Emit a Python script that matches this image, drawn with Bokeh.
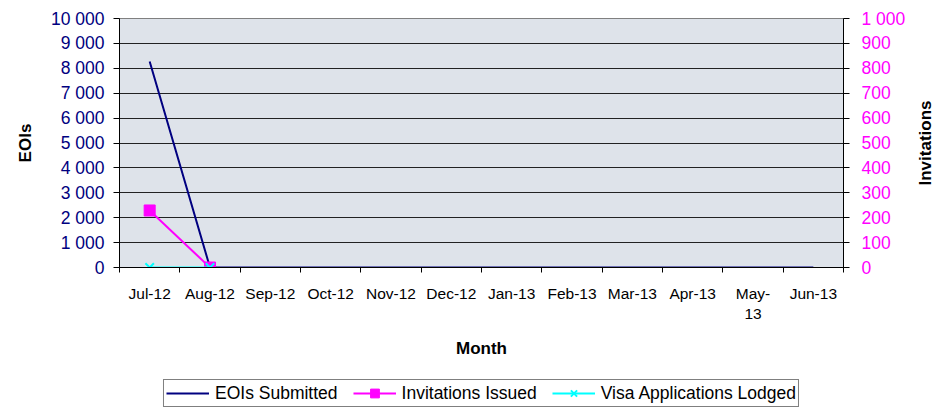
import math
from bokeh.plotting import figure
from bokeh.layouts import column, row
from bokeh.models import Range1d, LinearAxis, FixedTicker, Legend, LegendItem, Label
from bokeh.embed import file_html
from bokeh.resources import INLINE

# ---- data ----
months = ["Jul-12", "Aug-12", "Sep-12", "Oct-12", "Nov-12", "Dec-12",
          "Jan-13", "Feb-13", "Mar-13", "Apr-13", "May-13", "Jun-13"]
month_labels = ["Jul-12", "Aug-12", "Sep-12", "Oct-12", "Nov-12", "Dec-12",
                "Jan-13", "Feb-13", "Mar-13", "Apr-13", "May-\n13", "Jun-13"]
eois_submitted = [8270, 0, 0, 0, 0, 0, 0, 0, 0, 0, 0, 0]
invitations_issued = [229, 0]
visa_applications_lodged = [0, 0]
eoi_ticks = [0, 1000, 2000, 3000, 4000, 5000, 6000, 7000, 8000, 9000, 10000]
inv_ticks = [0, 100, 200, 300, 400, 500, 600, 700, 800, 900, 1000]
series_names = ["EOIs Submitted", "Invitations Issued", "Visa Applications Lodged"]

FONT = "Liberation Sans"
NAVY = "#000080"
MAGENTA = "#FF00FF"
CYAN = "#00FFFF"

x_all = list(range(len(months)))
bounds = [i - 0.5 for i in range(len(months) + 1)]
xi = x_all[:len(invitations_issued)]
xv = x_all[:len(visa_applications_lodged)]

MAIN_W, MAIN_H, LEG_H, TITLE_W = 908, 377, 32, 35

p = figure(width=MAIN_W, height=MAIN_H,
           x_range=Range1d(-0.5, len(months) - 0.5),
           y_range=Range1d(eoi_ticks[0], eoi_ticks[-1]),
           output_backend="svg", toolbar_location=None,
           min_border_left=119, min_border_right=64,
           min_border_top=18, min_border_bottom=110,
           background_fill_color="#DEE3EA", border_fill_color="white",
           outline_line_color="#808080", outline_line_width=1)
p.extra_y_ranges = {"inv": Range1d(inv_ticks[0], inv_ticks[-1])}

def fmt(v):
    return f"{v:,}".replace(",", " ")

# x axis 1: tick marks at category boundaries, labels hidden
xa = p.xaxis[0]
xa.ticker = FixedTicker(ticks=bounds)
xa.major_label_text_color = None
xa.major_label_text_font_size = "2px"
xa.major_label_standoff = 0
xa.major_tick_in = 0
xa.major_tick_out = 5
xa.major_tick_line_color = "black"
xa.minor_tick_line_color = None
xa.axis_line_color = "black"

# x axis 2: month labels at category centres
xb = LinearAxis(ticker=FixedTicker(ticks=x_all))
xb.major_label_overrides = {i: lab for i, lab in zip(x_all, month_labels)}
xb.axis_line_color = None
xb.major_tick_line_color = None
xb.minor_tick_line_color = None
xb.major_tick_in = 0
xb.major_tick_out = 0
xb.major_label_text_font = FONT
xb.major_label_text_font_size = "15.5px"
xb.major_label_text_color = "black"
xb.major_label_standoff = 12
xb.axis_label = "Month"
xb.axis_label_text_font = FONT
xb.axis_label_text_font_style = "bold"
xb.axis_label_text_font_size = "17px"
xb.axis_label_text_color = "black"
xb.axis_label_standoff = 14
p.add_layout(xb, "below")

# left axis
ya = p.yaxis[0]
ya.ticker = FixedTicker(ticks=eoi_ticks)
ya.major_label_overrides = {v: fmt(v) for v in eoi_ticks}
ya.major_tick_in = 0
ya.major_tick_out = 6
ya.major_tick_line_color = "black"
ya.minor_tick_line_color = None
ya.axis_line_color = "black"
ya.major_label_text_font = FONT
ya.major_label_text_font_size = "17.5px"
ya.major_label_text_color = NAVY
ya.major_label_standoff = 9
ya.axis_label = "EOIs"
ya.axis_label_text_font = FONT
ya.axis_label_text_font_style = "bold"
ya.axis_label_text_font_size = "17px"
ya.axis_label_text_color = "black"
ya.axis_label_standoff = 13

# right axis (its title is drawn in a narrow strip to the right)
ra = LinearAxis(y_range_name="inv", ticker=FixedTicker(ticks=inv_ticks))
ra.major_label_overrides = {v: fmt(v) for v in inv_ticks}
ra.major_tick_in = 0
ra.major_tick_out = 6
ra.major_tick_line_color = "black"
ra.axis_line_color = "black"
ra.minor_tick_line_color = None
ra.major_label_text_font = FONT
ra.major_label_text_font_size = "17.5px"
ra.major_label_text_color = MAGENTA
ra.major_label_standoff = 12
p.add_layout(ra, "right")

# grid
p.xgrid.visible = False
p.ygrid.grid_line_color = "black"
p.ygrid.grid_line_alpha = 0.85
p.ygrid.grid_line_width = 1

# series
p.line(x_all, eois_submitted, line_color=NAVY, line_width=2)
p.line(xi, invitations_issued, y_range_name="inv", line_color=MAGENTA, line_width=2)
p.scatter(xi, invitations_issued, y_range_name="inv", marker="square", size=11,
          fill_color=MAGENTA, line_color=MAGENTA)
p.line(xv, visa_applications_lodged, line_color=CYAN, line_width=2)
p.scatter(xv, visa_applications_lodged, marker="x", size=12,
          line_color=CYAN, line_width=2)

# legend strip: same series drawn off-screen so that the legend shows their styles
lg = figure(width=MAIN_W, height=LEG_H,
            x_range=Range1d(-0.5, len(months) - 0.5), y_range=Range1d(-20, -10),
            output_backend="svg", toolbar_location=None,
            x_axis_type=None, y_axis_type=None,
            min_border_left=52, min_border_right=0, min_border_top=0, min_border_bottom=0,
            background_fill_color="white", border_fill_color="white",
            outline_line_color=None)
l1 = lg.line(x_all, eois_submitted, line_color=NAVY, line_width=2)
l2 = lg.line(xi, invitations_issued, line_color=MAGENTA, line_width=2)
l2m = lg.scatter(xi, invitations_issued, marker="square", size=11,
                 fill_color=MAGENTA, line_color=MAGENTA)
l3 = lg.line(xv, visa_applications_lodged, line_color=CYAN, line_width=2)
l3m = lg.scatter(xv, visa_applications_lodged, marker="x", size=12,
                 line_color=CYAN, line_width=2)

legend = Legend(items=[
    LegendItem(label=series_names[0], renderers=[l1]),
    LegendItem(label=series_names[1], renderers=[l2, l2m]),
    LegendItem(label=series_names[2], renderers=[l3, l3m]),
], orientation="horizontal", location="center",
    border_line_color="black", border_line_width=1,
    background_fill_color="white", background_fill_alpha=1.0,
    label_text_font=FONT, label_text_font_size="17.5px", label_text_color="black",
    glyph_width=43, glyph_height=22, label_height=14, label_standoff=6,
    spacing=15, padding=2, margin=0)
lg.add_layout(legend)

# right-hand title strip ("Invitations", reading bottom to top)
tf = figure(width=TITLE_W, height=MAIN_H + LEG_H,
            x_range=Range1d(0, TITLE_W), y_range=Range1d(0, MAIN_H + LEG_H),
            output_backend="svg", toolbar_location=None,
            x_axis_type=None, y_axis_type=None,
            min_border_left=0, min_border_right=0, min_border_top=0, min_border_bottom=0,
            background_fill_color="white", border_fill_color="white",
            outline_line_color=None)
tf.add_layout(Label(x=17, y=MAIN_H + LEG_H - 142.5, x_units="screen", y_units="screen",
                    text="Invitations", angle=math.pi / 2,
                    text_align="center", text_baseline="middle",
                    text_font=FONT, text_font_style="bold", text_font_size="17px",
                    text_color="black"))

layout = row(column(p, lg, spacing=0), tf, spacing=0)
open("out.html", "w").write(file_html(layout, INLINE))
